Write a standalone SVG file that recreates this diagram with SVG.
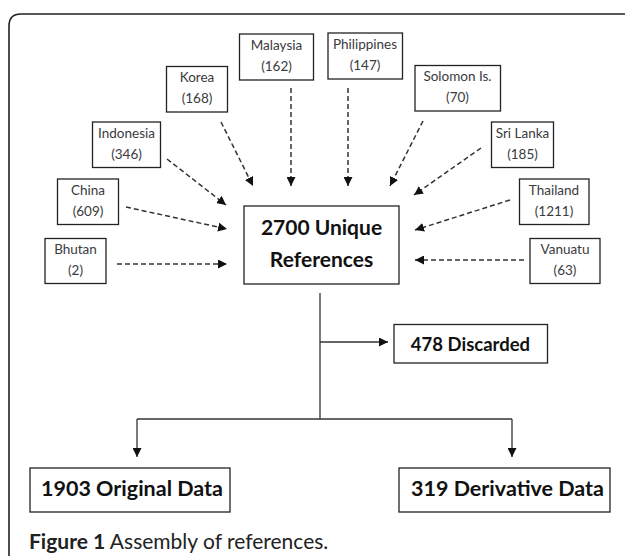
<svg xmlns="http://www.w3.org/2000/svg" width="625" height="556" viewBox="0 0 625 556">
<style>
.box{fill:#fff;stroke:#222;stroke-width:1.3}
.c{font-family:Lato,"Open Sans","Liberation Sans",sans-serif;font-size:13.5px;fill:#3a3a40;text-anchor:middle}
.b{font-family:Lato,"Open Sans","Liberation Sans",sans-serif;font-weight:bold;fill:#111;text-anchor:middle}
.d{stroke:#333;stroke-width:1.5;stroke-dasharray:5 3;fill:none}
.s{stroke:#333;stroke-width:1.3;fill:none}
</style>
<defs>
<marker id="ah" markerUnits="userSpaceOnUse" viewBox="0 0 10 10" refX="10" refY="5" markerWidth="9" markerHeight="9" orient="auto">
<path d="M0,0 L10,5 L0,10 z" fill="#111"/>
</marker>
</defs>
<path d="M9,556 L9,26 Q9,14 21,14 L625,14" fill="none" stroke="#222" stroke-width="1.6"/>
<g id="connectors">
<line class="d" x1="117" y1="264" x2="227" y2="264" marker-end="url(#ah)"/>
<line class="d" x1="126" y1="207" x2="227" y2="229" marker-end="url(#ah)"/>
<line class="d" x1="167" y1="159" x2="226" y2="205" marker-end="url(#ah)"/>
<line class="d" x1="221" y1="122" x2="253" y2="186" marker-end="url(#ah)"/>
<line class="d" x1="291" y1="88" x2="291" y2="186" marker-end="url(#ah)"/>
<line class="d" x1="348" y1="88" x2="348" y2="186" marker-end="url(#ah)"/>
<line class="d" x1="423" y1="121" x2="390" y2="186" marker-end="url(#ah)"/>
<line class="d" x1="481" y1="148" x2="414" y2="195" marker-end="url(#ah)"/>
<line class="d" x1="510" y1="200" x2="415" y2="230" marker-end="url(#ah)"/>
<line class="d" x1="524" y1="260" x2="415" y2="260" marker-end="url(#ah)"/>
<line class="s" x1="320" y1="293" x2="320" y2="419"/>
<line class="s" x1="320" y1="342" x2="388" y2="342" marker-end="url(#ah)"/>
<line class="s" x1="137" y1="419" x2="512" y2="419"/>
<line class="s" x1="137" y1="419" x2="137" y2="457" marker-end="url(#ah)"/>
<line class="s" x1="512" y1="419" x2="512" y2="457" marker-end="url(#ah)"/>
</g>
<g id="malaysia"><rect class="box" x="239.5" y="34" width="74" height="46"/><text class="c" x="276.5" y="50">Malaysia</text><text class="c" x="276.5" y="71">(162)</text></g>
<g id="philippines"><rect class="box" x="328" y="33" width="74.5" height="46"/><text class="c" x="365" y="49">Philippines</text><text class="c" x="365" y="70">(147)</text></g>
<g id="korea"><rect class="box" x="166.5" y="66.5" width="61" height="45.5"/><text class="c" x="197" y="82">Korea</text><text class="c" x="197" y="103">(168)</text></g>
<g id="solomon"><rect class="box" x="415" y="65.5" width="85.5" height="45.5"/><text class="c" x="457.5" y="81">Solomon Is.</text><text class="c" x="457.5" y="102">(70)</text></g>
<g id="indonesia"><rect class="box" x="92.5" y="122" width="68" height="45.5"/><text class="c" x="126.5" y="137.5">Indonesia</text><text class="c" x="126.5" y="158.5">(346)</text></g>
<g id="srilanka"><rect class="box" x="491.5" y="122" width="62" height="45.5"/><text class="c" x="522.5" y="137.5">Sri Lanka</text><text class="c" x="522.5" y="158.5">(185)</text></g>
<g id="china"><rect class="box" x="57.5" y="179" width="61" height="45.5"/><text class="c" x="88" y="194.5">China</text><text class="c" x="88" y="215.5">(609)</text></g>
<g id="thailand"><rect class="box" x="519.5" y="179" width="69.5" height="45.5"/><text class="c" x="554" y="194.5">Thailand</text><text class="c" x="554" y="215.5">(1211)</text></g>
<g id="bhutan"><rect class="box" x="45" y="238.5" width="61" height="45"/><text class="c" x="75.5" y="254">Bhutan</text><text class="c" x="75.5" y="275">(2)</text></g>
<g id="vanuatu"><rect class="box" x="530" y="238.5" width="70" height="45"/><text class="c" x="565" y="254">Vanuatu</text><text class="c" x="565" y="275">(63)</text></g>
<g id="unique"><rect class="box" x="244" y="206" width="155" height="78"/><text class="b" x="321.5" y="235" font-size="21">2700 Unique</text><text class="b" x="321.5" y="267" font-size="21">References</text></g>
<g id="discarded"><rect class="box" x="394" y="324.5" width="153.5" height="38.5"/><text class="b" x="470.5" y="351" font-size="18.5">478 Discarded</text></g>
<g id="original"><rect class="box" x="30" y="468" width="200" height="44"/><text class="b" x="132" y="496" font-size="21.5">1903 Original Data</text></g>
<g id="derivative"><rect class="box" x="399" y="468" width="211" height="44"/><text class="b" x="507.5" y="496" font-size="21.5">319 Derivative Data</text></g>
<text x="29" y="549" font-family="Lato,'Open Sans','Liberation Sans',sans-serif" font-size="21" fill="#222"><tspan font-weight="bold">Figure 1</tspan> Assembly of references.</text>
</svg>
